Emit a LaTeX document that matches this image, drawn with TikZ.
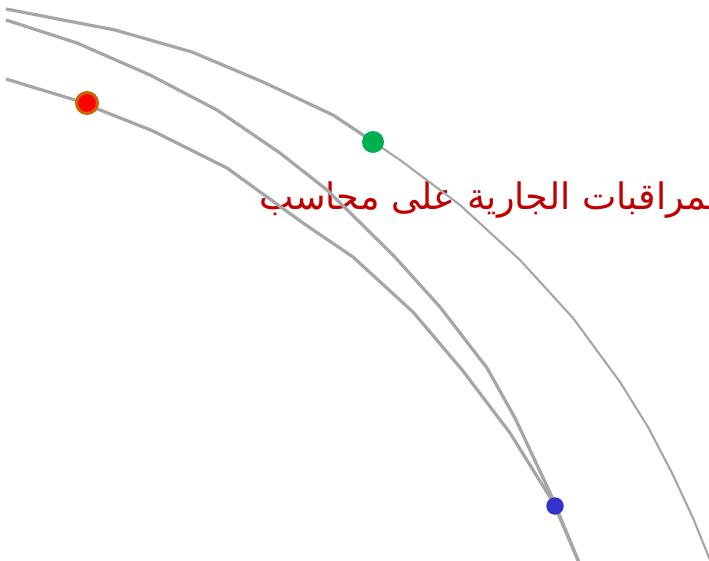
\documentclass[tikz,border=0pt]{standalone}
\usepackage{fontspec}
\newfontfamily\arabicfont[Script=Arabic]{DejaVu Sans}
\TeXXeTstate=1
\definecolor{trackgray}{HTML}{A6A6A6}
\definecolor{labelred}{HTML}{C00000}
\definecolor{rimorange}{HTML}{CC6600}
\definecolor{dotgreen}{HTML}{00B050}
\definecolor{dotblue}{HTML}{3333CC}
\tikzset{track/.style={draw=trackgray,line width=3.2pt,line join=round},thintrack/.style={track,line width=2.1pt},dot/.style={circle,inner sep=0pt,minimum size=#1},label/.style={anchor=base west,inner sep=0pt,text=labelred,font=\arabicfont\fontsize{36.5}{40}\selectfont}}

\begin{document}
\begin{tikzpicture}[x=1pt,y=-1pt]
\clip (0,0) rectangle (709,561);
\node[label] (lbl) at (259,210) {\beginR المراقبات الجارية على محاسب\endR};
% outer track
\draw[track] (6,9) -- (115,30) -- (192,52) -- (263,82) -- (333,115) -- (372,141);
\draw[thintrack] (372,141) -- (400,160) -- (460,205) -- (520,260) -- (573,318) -- (620,382) -- (648,427) -- (672,473) -- (693,518) -- (712,565);
% middle track
\draw[track] (6,20) -- (77,43) -- (150,75) -- (217,110) -- (280,153) -- (327,190) -- (393,255) -- (440,307) -- (487,368) -- (515,418) -- (552,497) -- (580,565);
% inner track
\draw[track] (6,79) -- (75,100) -- (153,131) -- (227,168) -- (303,223) -- (353,257) -- (413,312) -- (463,371) -- (510,433) -- (553,502) -- (580,565);
\node[dot=21pt, fill=red, draw=rimorange, line width=3pt] (start) at (87,103) {};
\node[dot=22pt, fill=dotgreen] (mid) at (373,142) {};
\node[dot=17.5pt, fill=dotblue] (stop) at (555,506) {};
\end{tikzpicture}
\end{document}
